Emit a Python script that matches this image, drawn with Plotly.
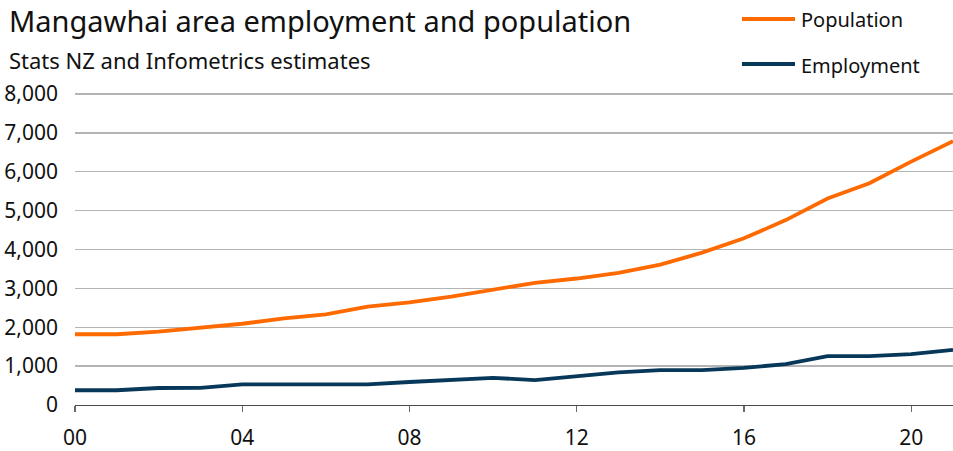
import plotly.graph_objects as go

years = list(range(2000, 2022))
population = [1820, 1820, 1885, 1980, 2090, 2230, 2330, 2530, 2640, 2790, 2963,
              3143, 3254, 3399, 3612, 3920, 4287, 4757, 5312, 5705, 6260, 6789]
employment = [380, 380, 437, 440, 532, 530, 530, 530, 592, 645, 700,
              640, 743, 837, 897, 897, 956, 1050, 1255, 1255, 1307, 1418]
x_tickvals = [2000, 2004, 2008, 2012, 2016, 2020]
x_ticktext = ["00", "04", "08", "12", "16", "20"]
y_tickvals = [0, 1000, 2000, 3000, 4000, 5000, 6000, 7000, 8000]

ORANGE = "#FF6A00"
NAVY = "#07385A"
FONT = "Noto Sans"

W, H = 953, 451
L, R, T, B = 75, 0, 93, 46
pw, ph = W - L - R, H - T - B

def px(x):
    return (x - L) / pw

def py(y):
    return (H - B - y) / ph

fig = go.Figure()
fig.add_trace(go.Scatter(x=years, y=population, mode="lines", name="Population",
                         line=dict(color=ORANGE, width=3.8), showlegend=False,
                         hoverinfo="skip"))
fig.add_trace(go.Scatter(x=years, y=employment, mode="lines", name="Employment",
                         line=dict(color=NAVY, width=3.8), showlegend=False,
                         hoverinfo="skip"))

annotations = [
    dict(text="Mangawhai area employment and population", xref="paper", yref="paper",
         x=px(7), y=py(21), xanchor="left", yanchor="middle", showarrow=False,
         font=dict(family=FONT, size=29, color="#111111")),
    dict(text="Stats NZ and Infometrics estimates", xref="paper", yref="paper",
         x=px(7), y=py(60), xanchor="left", yanchor="middle", showarrow=False,
         font=dict(family=FONT, size=22, color="#111111")),
    dict(text="Population", xref="paper", yref="paper",
         x=px(799), y=py(20), xanchor="left", yanchor="middle", showarrow=False,
         font=dict(family=FONT, size=20, color="#111111")),
    dict(text="Employment", xref="paper", yref="paper",
         x=px(799), y=py(65), xanchor="left", yanchor="middle", showarrow=False,
         font=dict(family=FONT, size=20, color="#111111")),
]
shapes = [
    dict(type="line", xref="paper", yref="paper", x0=px(742), x1=px(795),
         y0=py(19), y1=py(19), line=dict(color=ORANGE, width=3.8)),
    dict(type="line", xref="paper", yref="paper", x0=px(742), x1=px(795),
         y0=py(64), y1=py(64), line=dict(color=NAVY, width=3.8)),
]

fig.update_layout(
    width=W, height=H,
    margin=dict(l=L, r=R, t=T, b=B, pad=0),
    paper_bgcolor="white", plot_bgcolor="white",
    font=dict(family=FONT, size=21, color="#111111"),
    annotations=annotations, shapes=shapes,
    hovermode=False,
    xaxis=dict(range=[2000, 2021], tickvals=x_tickvals, ticktext=x_ticktext,
               showgrid=False, zeroline=False, showline=True, linecolor="#4A4A4A",
               linewidth=1.3, ticks="outside", ticklen=6, tickcolor="#6A6A6A",
               tickwidth=1.3, ticklabelstandoff=7,
               tickfont=dict(family=FONT, size=21, color="#111111")),
    yaxis=dict(range=[0, 8026], tickvals=y_tickvals, tickformat=",d",
               showgrid=True, gridcolor="#B4B4B4", gridwidth=1.3, zeroline=False,
               showline=False, ticks="", ticklabelstandoff=16,
               tickfont=dict(family=FONT, size=21, color="#111111")),
)

fig.write_html(
    "out.html",
    config={"displayModeBar": False, "staticPlot": True},
    post_script="document.body.style.margin='0';document.body.style.overflow='hidden';",
)
